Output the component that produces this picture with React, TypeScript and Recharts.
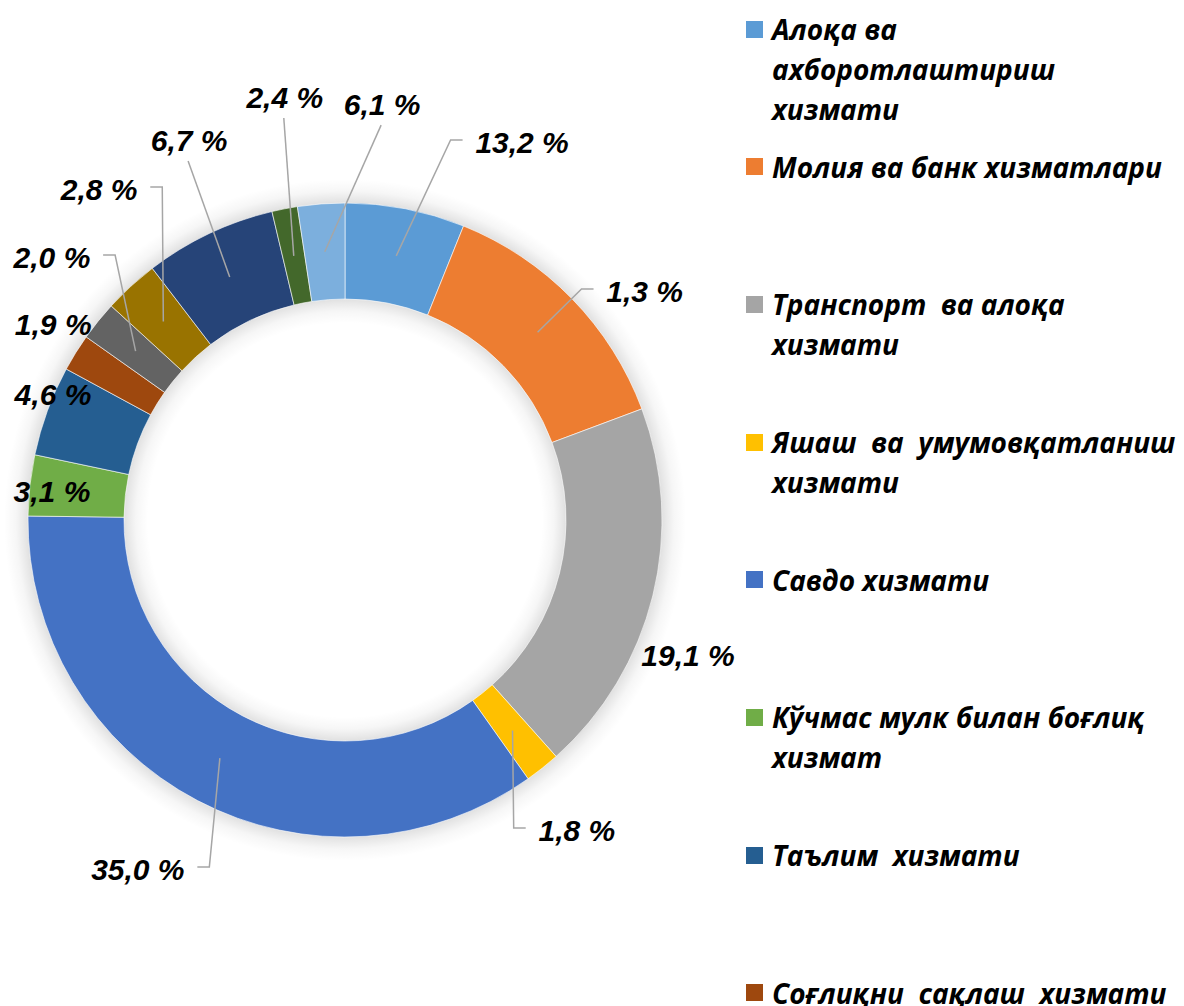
import React from 'react';
import { PieChart, Pie, Legend } from 'recharts';

// ---------- data ----------
const categories = [
  'Алоқа ва\nахборотлаштириш\nхизмати',
  'Молия ва банк хизматлари',
  'Транспорт  ва алоқа\nхизмати',
  'Яшаш  ва  умумовқатланиш\nхизмати',
  'Савдо хизмати',
  'Кўчмас мулк билан боғлиқ\nхизмат',
  'Таълим  хизмати',
  'Соғлиқни  сақлаш  хизмати',
  'Ижара хизматлари',
  'Таъмирлаш хизматлари',
  'Шахсий хизматлар',
  'Меъморчилик хизматлари',
  'Бошқа хизматлар',
];

const shares = [6.1, 13.2, 19.1, 1.8, 35.0, 3.1, 4.6, 1.9, 2.0, 2.8, 6.7, 1.3, 2.4];

const valueLabels = [
  '13,2 %', '1,3 %', '19,1 %', '1,8 %', '35,0 %', '3,1 %', '4,6 %',
  '1,9 %', '2,0 %', '2,8 %', '6,7 %', '2,4 %', '6,1 %',
];

const colors = [
  '#5B9BD5', '#ED7D31', '#A5A5A5', '#FFC000', '#4472C4', '#70AD47', '#255E91',
  '#9E480E', '#636363', '#997300', '#264478', '#43682B', '#7CAFDD',
];

// label placement: polar (degrees clockwise from top, radius as multiple of outer radius)
const labelPlacement = [
  { deg: 25.1, k: 1.317, line: 'elbow' },
  { deg: 52.6, k: 1.19, line: 'elbow' },
  { deg: 111.5, k: 1.163, line: 'none' },
  { deg: 143.2, k: 1.221, line: 'elbow' },
  { deg: 210.7, k: 1.28, line: 'elbow' },
  { deg: 275.7, k: 0.929, line: 'none' },
  { deg: 293.3, k: 1.003, line: 'none' },
  { deg: 303.9, k: 1.109, line: 'none' },
  { deg: 311.9, k: 1.242, line: 'elbow' },
  { deg: 323.4, k: 1.301, line: 'elbow' },
  { deg: 337.7, k: 1.296, line: 'direct' },
  { deg: 351.9, k: 1.348, line: 'direct' },
  { deg: 5.1, k: 1.317, line: 'direct' },
];

const pieData = shares.map((v, i) => ({ name: categories[i], value: v, fill: colors[i] }));

// ---------- styling ----------
const W = 1184;
const H = 1006;
const CX = 345;
const CY = 520;
const R_IN = 221;
const R_OUT = 317;
const GLOW = 24;
const LABEL_FS = 30;
const LABEL_FONT = '"Liberation Sans", Arial, Helvetica, sans-serif';
const LEGEND_FONT = '"Open Sans", "Noto Sans", sans-serif';
const LEGEND_FS = 28;
const RAD = Math.PI / 180;

const charW: Record<string, number> = {
  '0': 0.556, '1': 0.556, '2': 0.556, '3': 0.556, '4': 0.556, '5': 0.556,
  '6': 0.556, '7': 0.556, '8': 0.556, '9': 0.556, ',': 0.278, ' ': 0.278, '%': 0.889,
};
const textWidth = (s: string, fs: number) =>
  s.split('').reduce((a, c) => a + (charW[c] ?? 0.556), 0) * fs + fs * 0.12;

const renderLabel = (props: any) => {
  const { cx, cy, midAngle, innerRadius, outerRadius, index } = props;
  const mr = (innerRadius + outerRadius) / 2;
  const sx = cx + mr * Math.cos(-midAngle * RAD);
  const sy = cy + mr * Math.sin(-midAngle * RAD);
  const p = labelPlacement[index];
  const tx = cx + p.k * outerRadius * Math.sin(p.deg * RAD);
  const ty = cy - p.k * outerRadius * Math.cos(p.deg * RAD);
  const text = valueLabels[index];
  const w = textWidth(text, LABEL_FS);
  let d: string | null = null;
  if (p.line === 'elbow') {
    const right = tx > sx;
    const edge = right ? tx - w / 2 - 11 : tx + w / 2 + 11;
    const ex = right ? edge - 12 : edge + 12;
    const ly = ty - 2;
    d = `M${sx},${sy}L${ex},${ly}L${edge},${ly}`;
  } else if (p.line === 'direct') {
    d = `M${sx},${sy}L${tx - 1},${ty + 21}`;
  }
  return (
    <g key={`lbl-${index}`}>
      {d && <path d={d} stroke="#A6A6A6" strokeWidth={1.5} fill="none" />}
      <text
        x={tx}
        y={ty + 0.36 * LABEL_FS}
        textAnchor="middle"
        fontFamily={LABEL_FONT}
        fontSize={LABEL_FS}
        fontWeight="bold"
        fontStyle="italic"
        fill="#000"
      >
        {text}
      </text>
    </g>
  );
};

const renderLegend = () => (
  <div style={{ margin: 0, padding: 0 }}>
    {categories.map((name, i) => (
      <div
        key={`leg-${i}`}
        style={{ height: 137.7, display: 'flex', alignItems: 'flex-start', boxSizing: 'border-box' }}
      >
        <div
          style={{
            width: 17,
            height: 17,
            marginTop: 11.5,
            background: colors[i],
            flex: '0 0 auto',
          }}
        />
        <div
          style={{
            marginLeft: 9,
            fontFamily: LEGEND_FONT,
            fontSize: LEGEND_FS,
            fontWeight: 700,
            fontStyle: 'italic',
            lineHeight: '40px',
            whiteSpace: 'pre',
            color: '#000',
          }}
        >
          {name}
        </div>
      </div>
    ))}
  </div>
);

const glowR = R_OUT + GLOW;
const stop = (r: number) => `${((r / glowR) * 100).toFixed(2)}%`;

export default function App() {
  return (
    <div
      style={{
        position: 'absolute',
        left: 0,
        top: 0,
        width: W,
        height: H,
        overflow: 'hidden',
        background: '#fff',
      }}
    >
      {/* soft shadow halo around the ring (decoration) */}
      <svg width={W} height={H} style={{ position: 'absolute', left: 0, top: 0 }}>
        <defs>
          <radialGradient id="ringGlow" gradientUnits="userSpaceOnUse" cx={CX} cy={CY} r={glowR}>
            <stop offset={stop(R_IN - GLOW)} stopColor="#000" stopOpacity={0} />
            <stop offset={stop(R_IN - 12)} stopColor="#000" stopOpacity={0.035} />
            <stop offset={stop(R_IN - 4)} stopColor="#000" stopOpacity={0.09} />
            <stop offset={stop(R_IN)} stopColor="#000" stopOpacity={0.12} />
            <stop offset={stop(R_OUT)} stopColor="#000" stopOpacity={0.12} />
            <stop offset={stop(R_OUT + 4)} stopColor="#000" stopOpacity={0.09} />
            <stop offset={stop(R_OUT + 12)} stopColor="#000" stopOpacity={0.035} />
            <stop offset="100%" stopColor="#000" stopOpacity={0} />
          </radialGradient>
        </defs>
        <circle cx={CX} cy={CY} r={glowR} fill="url(#ringGlow)" />
      </svg>
      <div style={{ position: 'absolute', left: 0, top: 0 }}>
        <PieChart width={W} height={H} margin={{ top: 0, right: 0, bottom: 0, left: 0 }}>
          <Pie
            data={pieData}
            dataKey="value"
            nameKey="name"
            cx={CX}
            cy={CY}
            innerRadius={R_IN}
            outerRadius={R_OUT}
            startAngle={90}
            endAngle={-270}
            stroke="#ffffff"
            strokeWidth={0.6}
            label={renderLabel}
            labelLine={false}
            isAnimationActive={false}
          />
          <Legend
            layout="vertical"
            align="right"
            verticalAlign="top"
            content={renderLegend}
            wrapperStyle={{ left: 746, top: 9, width: 438 }}
          />
        </PieChart>
      </div>
    </div>
  );
}
